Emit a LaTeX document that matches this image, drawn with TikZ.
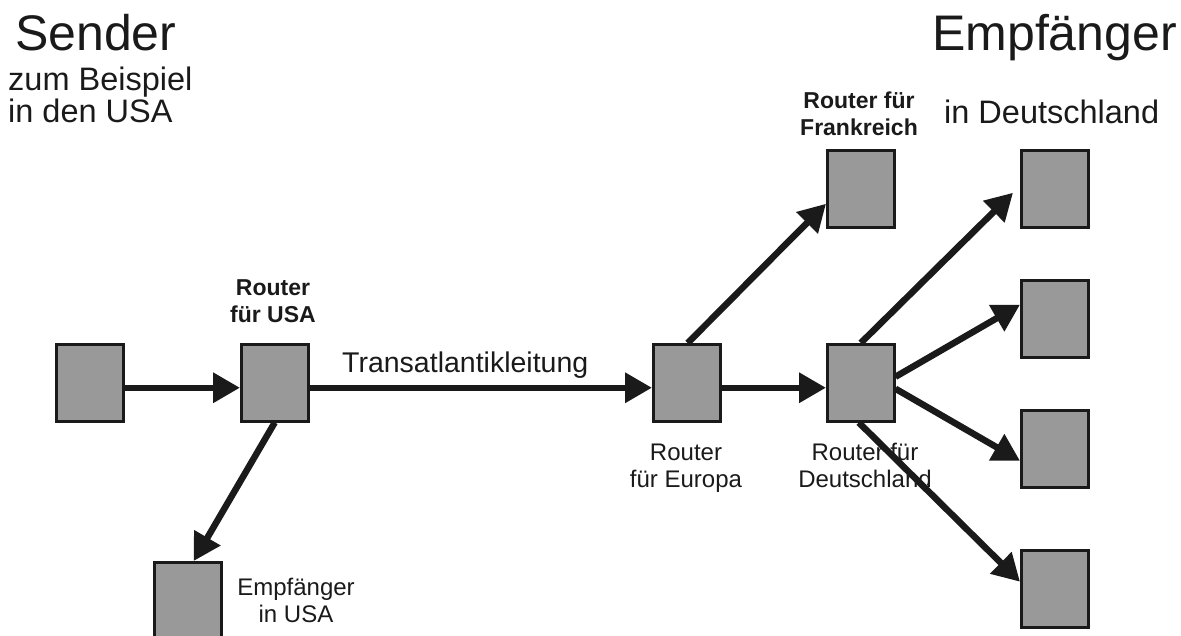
\documentclass[tikz,border=0pt]{standalone}
\usepackage{fontspec}
\setmainfont{Liberation Sans}
\usetikzlibrary{arrows.meta,calc}
\definecolor{boxgray}{HTML}{999999}
\definecolor{ink}{HTML}{1A1A1A}
\begin{document}
\begin{tikzpicture}[x=1pt,y=-1pt,
  box/.style={draw=ink,line width=2.5pt,fill=boxgray,minimum width=67pt,minimum height=77pt,inner sep=0pt,anchor=north west},
  conn/.style={draw=ink,line width=6.5pt,-{Triangle[length=27pt,width=29pt]}},
  lbl/.style={inner sep=0pt,align=center,anchor=base,text=ink,font=\fontsize{24}{27}\selectfont},
  lblb/.style={lbl,font=\fontsize{23}{27}\selectfont\bfseries},
  title/.style={inner sep=0pt,text=ink,font=\fontsize{50}{60}\selectfont},
  sub/.style={inner sep=0pt,text=ink,font=\fontsize{32.5}{33}\selectfont}]
\useasboundingbox (0,0) rectangle (1181,635);
\clip (0,0) rectangle (1181,635);
% boxes
\node[box] (snd) at (55,343) {};
\node[box] (rusa) at (240,343) {};
\node[box] (eusa) at (153,561) {};
\node[box] (reu) at (652,343) {};
\node[box] (rde) at (826,343) {};
\node[box] (rfr) at (826,149) {};
\node[box] (d1) at (1020,149) {};
\node[box] (d2) at (1020,279) {};
\node[box] (d3) at (1020,409) {};
\node[box] (d4) at (1020,549) {};
% texts
\node[title,anchor=base west] (tsnd) at (15,50) {Sender};
\node[sub,anchor=base west] (tbsp) at (8,90) {zum Beispiel};
\node[sub,anchor=base west] (tusa) at (8,122) {in den USA};
\node[title,anchor=base east] (temp) at (1177,50) {Empfänger};
\node[sub,anchor=base west] (tde) at (944,123) {in Deutschland};
\node[lblb] (lrusa) at (273,322) {Router\\für USA};
\node[lblb] (lrfr) at (859,135) {Router für\\Frankreich};
\node[lbl] (lreu) at (686,487) {Router\\für Europa};
\node[lbl] (lrde) at (865,487) {Router für\\Deutschland};
\node[lbl] (leusa) at (296,622) {Empfänger\\in USA};
\node[inner sep=0pt,anchor=base west,text=ink,font=\fontsize{28.5}{30}\selectfont] (ttrans) at (342,372) {Transatlantikleitung};
% connectors
\draw[conn] ($(snd.east)+(0,5)$) -- ($(rusa.west)+(0,5)$);
\draw[conn] ($(rusa.east)+(0,5)$) -- ($(reu.west)+(0,5)$);
\draw[conn] ($(reu.east)+(0,5)$) -- ($(rde.west)+(0,5)$);
\draw[conn] (rusa.south) -- ($(eusa.north)+(6,0)$);
\draw[conn] ($(reu.north)+(1,0)$) -- ($(rfr.west)+(0,15)$);
\draw[conn] ($(rde.north)+(0,0)$) -- ($(d1.west)+(-7,4)$);
\draw[conn] ($(rde.east)+(0,-6)$) -- ($(d2.west)+(0,-14)$);
\draw[conn] ($(rde.east)+(0,6)$) -- ($(d3.west)+(0,12)$);
\draw[conn] ($(rde.south)+(-2,0)$) -- ($(d4.west)+(0,-7)$);
\end{tikzpicture}
\end{document}
